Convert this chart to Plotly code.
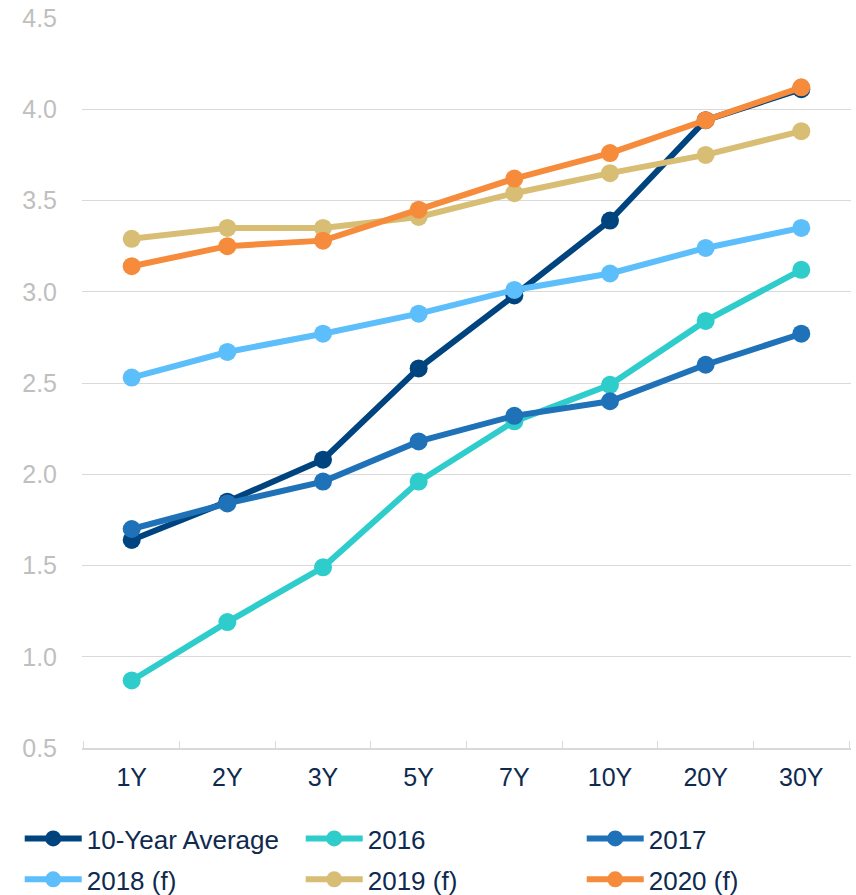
import plotly.graph_objects as go

# Tenor buckets on the x axis
tenors = ["1Y", "2Y", "3Y", "5Y", "7Y", "10Y", "20Y", "30Y"]

# Yield curves (%) by series
avg_10y = [1.64, 1.85, 2.08, 2.58, 2.98, 3.39, 3.94, 4.11]
y2016 = [0.87, 1.19, 1.49, 1.96, 2.29, 2.49, 2.84, 3.12]
y2017 = [1.70, 1.84, 1.96, 2.18, 2.32, 2.40, 2.60, 2.77]
y2018f = [2.53, 2.67, 2.77, 2.88, 3.01, 3.10, 3.24, 3.35]
y2019f = [3.29, 3.35, 3.35, 3.41, 3.54, 3.65, 3.75, 3.88]
y2020f = [3.14, 3.25, 3.28, 3.45, 3.62, 3.76, 3.94, 4.12]

series_names = ["10-Year Average", "2016", "2017", "2018 (f)", "2019 (f)", "2020 (f)"]
series_values = [avg_10y, y2016, y2017, y2018f, y2019f, y2020f]
series_colors = ["#00447F", "#2ECDCC", "#1F72B8", "#5CBEFA", "#D8BD74", "#F68B3B"]
# first three entries in the top legend row, the forecasts in the second
legend_rows = ["legend", "legend", "legend", "legend2", "legend2", "legend2"]

y_ticks = [0.5, 1.0, 1.5, 2.0, 2.5, 3.0, 3.5, 4.0, 4.5]

fig = go.Figure()
for name, vals, color, lg in zip(series_names, series_values, series_colors, legend_rows):
    fig.add_trace(go.Scatter(
        x=tenors, y=vals, name=name, mode="lines+markers",
        line=dict(color=color, width=6),
        marker=dict(color=color, size=18, line=dict(width=0)),
        legend=lg,
    ))

text_color = "#0E2A4F"
legend_common = dict(
    orientation="h", x=-0.081, xanchor="left", yanchor="top",
    entrywidth=209, entrywidthmode="pixels",
    itemwidth=57, traceorder="normal",
    font=dict(size=26, color=text_color),
    bgcolor="rgba(0,0,0,0)",
)
fig.update_layout(
    width=856, height=895,
    margin=dict(l=82, r=5, t=18, b=147, autoexpand=False),
    paper_bgcolor="white", plot_bgcolor="white",
    font=dict(family="Liberation Sans, Arial, sans-serif", size=25, color=text_color),
    showlegend=True,
    legend=dict(y=-0.0918, **legend_common),
    legend2=dict(y=-0.1479, **legend_common),
    xaxis=dict(
        type="category", categoryorder="array", categoryarray=tenors,
        showgrid=False, showline=True, linecolor="#D9D9D9", linewidth=1.5,
        ticks="inside", tickson="boundaries", ticklen=7, tickcolor="#D9D9D9",
        tickfont=dict(size=25, color=text_color), ticklabelstandoff=6,
        zeroline=False, fixedrange=True,
    ),
    yaxis=dict(
        range=[0.5, 4.5], tickvals=y_ticks, tickformat=".1f",
        showgrid=True, gridcolor="#D9D9D9", gridwidth=1,
        showline=False, zeroline=False, ticks="",
        tickfont=dict(size=25, color="#BFBFBF"), ticklabelstandoff=24,
        fixedrange=True,
    ),
)

fig.write_html("out.html")
